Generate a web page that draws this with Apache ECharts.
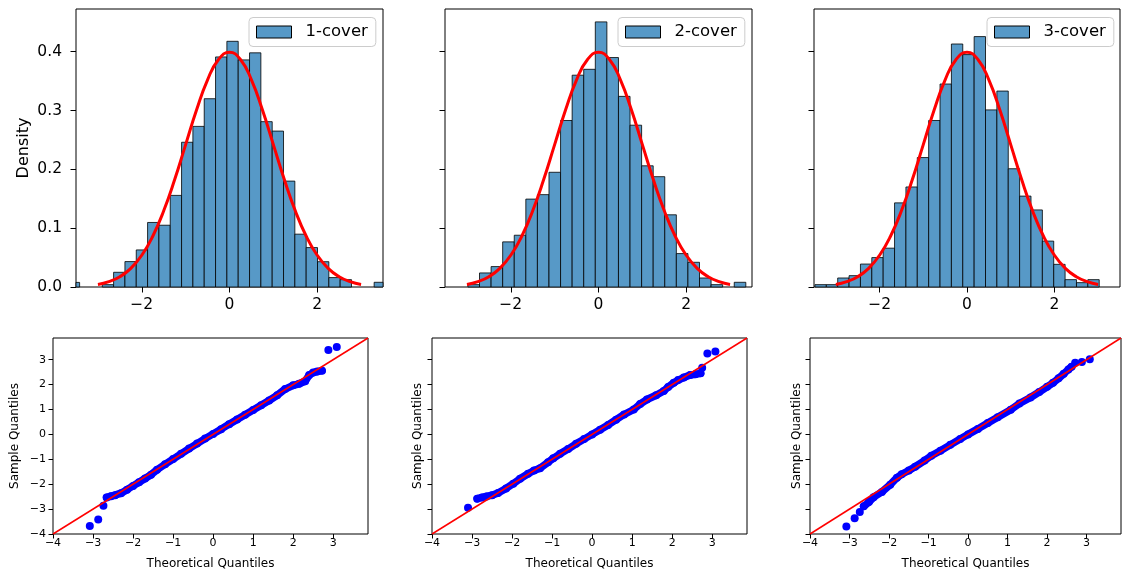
<!DOCTYPE html>
<html>
<head>
<meta charset="utf-8">
<script src="https://cdn.jsdelivr.net/npm/echarts@6.0.0/dist/echarts.min.js"></script>
<style>
  html, body { margin: 0; padding: 0; background: #fff; }
  #main { width: 1122px; height: 574px; }
</style>
</head>
<body>
<div id="main"></div>
<script>
// histogram densities per bin
var names = ['1-cover', '2-cover', '3-cover'];
var binStart = [-3.676, -2.977, -3.478];
var binWidth = [0.2583, 0.264, 0.2601];
var dens1 = [0.0078, 0, 0, 0.004, 0.025, 0.0432, 0.063, 0.1097, 0.105, 0.1557, 0.246, 0.273, 0.32, 0.391,
  0.4176, 0.386, 0.398, 0.281, 0.265, 0.18, 0.0898, 0.067, 0.043, 0.016, 0.0125, 0, 0, 0.008];
var dens2 = [0.004, 0.0239, 0.0347, 0.0767, 0.088, 0.1494, 0.157, 0.195, 0.283, 0.36, 0.37, 0.4506,
  0.39, 0.324, 0.275, 0.206, 0.1875, 0.1227, 0.0568, 0.042, 0.0153, 0.004, 0, 0.008];
var dens3 = [0.004, 0.004, 0.0153, 0.0193, 0.039, 0.05, 0.066, 0.143, 0.17, 0.22, 0.283, 0.345, 0.413,
  0.395, 0.4256, 0.301, 0.333, 0.201, 0.1545, 0.131, 0.078, 0.0385, 0.0125, 0.0074, 0.0125];

// red normal curve
var pdfX = [-3, -2.75, -2.5, -2.25, -2, -1.75, -1.5, -1.25, -1, -0.75, -0.5, -0.25, 0,
  0.25, 0.5, 0.75, 1, 1.25, 1.5, 1.75, 2, 2.25, 2.5, 2.75, 3];
var pdfY = [0.0044, 0.0091, 0.0175, 0.0317, 0.054, 0.0863, 0.1295, 0.1826, 0.242, 0.3011, 0.3521, 0.3867, 0.3989,
  0.3867, 0.3521, 0.3011, 0.242, 0.1826, 0.1295, 0.0863, 0.054, 0.0317, 0.0175, 0.0091, 0.0044];

// qq plots: [theoretical, sample]; band = dense run of points, tail = lone points
var qq1Band = [[-2.66, -2.53], [-2.55, -2.48], [-2.45, -2.44], [-2.3, -2.36], [-2.15, -2.22], [-2.0, -2.07],
  [-1.85, -1.92], [-1.7, -1.77], [-1.55, -1.62], [-1.4, -1.42], [-1.2, -1.2], [-1.0, -0.99], [-0.8, -0.78],
  [-0.6, -0.57], [-0.4, -0.37], [-0.2, -0.17], [0, 0.02], [0.2, 0.21], [0.4, 0.41], [0.6, 0.6], [0.8, 0.79],
  [1.0, 0.98], [1.2, 1.17], [1.4, 1.36], [1.6, 1.57], [1.8, 1.82], [2.0, 1.97], [2.15, 2.03], [2.3, 2.13],
  [2.4, 2.38], [2.5, 2.48], [2.6, 2.52], [2.72, 2.56]];
var qq1Tail = [[-3.08, -3.68], [-2.87, -3.42], [-2.74, -2.87], [2.88, 3.39], [3.09, 3.51]];
var qq2Band = [[-2.87, -2.58], [-2.75, -2.53], [-2.64, -2.49], [-2.5, -2.44], [-2.35, -2.35], [-2.15, -2.17],
  [-1.97, -1.98], [-1.8, -1.78], [-1.6, -1.58], [-1.45, -1.45], [-1.3, -1.36], [-1.1, -1.12], [-0.97, -0.96],
  [-0.8, -0.78], [-0.6, -0.59], [-0.4, -0.38], [-0.2, -0.19], [0, 0], [0.2, 0.19], [0.4, 0.38], [0.6, 0.59],
  [0.8, 0.8], [1.04, 1.0], [1.2, 1.22], [1.37, 1.4], [1.6, 1.57], [1.79, 1.74], [1.9, 1.9], [2.04, 2.07],
  [2.15, 2.18], [2.29, 2.28], [2.45, 2.38], [2.58, 2.41], [2.71, 2.45]];
var qq2Tail = [[-3.1, -2.95], [2.75, 2.68], [2.88, 3.25], [3.08, 3.33]];
var qq3Band = [[-2.64, -2.89], [-2.51, -2.72], [-2.39, -2.52], [-2.18, -2.31], [-1.97, -2.02], [-1.8, -1.74],
  [-1.68, -1.6], [-1.5, -1.45], [-1.34, -1.3], [-1.1, -1.05], [-0.93, -0.86], [-0.7, -0.66], [-0.45, -0.42],
  [-0.2, -0.19], [0, 0], [0.25, 0.22], [0.5, 0.46], [0.75, 0.69], [1.08, 0.99], [1.3, 1.24], [1.58, 1.48],
  [1.8, 1.7], [2.0, 1.91], [2.15, 2.07], [2.29, 2.25], [2.42, 2.43], [2.54, 2.61], [2.62, 2.72]];
var qq3Tail = [[-3.08, -3.7], [-2.87, -3.37], [-2.74, -3.12], [2.71, 2.88], [2.88, 2.91], [3.08, 3.02]];
var qqLine = [-4, 3.87];

// tick values
var histTicksX = [-2, 0, 2];
var histTicksY = [0, 0.1, 0.2, 0.3, 0.4];
var qqTicks = [-4, -3, -2, -1, 0, 1, 2, 3];

var FONT = 'DejaVu Sans';
var barFill = '#5799c7';
var barEdge = 'rgba(0,0,0,0.8)';
var chart = echarts.init(document.getElementById('main'));

function minus(v) {
  return v < 0 ? '\u2212' + Math.abs(v) : String(v);
}

function histItem(params, api) {
  var a = api.coord([api.value(0), api.value(2)]);
  var b = api.coord([api.value(1), 0]);
  var cs = params.coordSys;
  var shape = echarts.graphic.clipRectByRect(
    { x: a[0], y: a[1], width: b[0] - a[0], height: b[1] - a[1] },
    { x: cs.x, y: cs.y, width: cs.width, height: cs.height });
  if (!shape || api.value(2) <= 0) return;
  return { type: 'rect', shape: shape, style: { fill: barFill, stroke: barEdge, lineWidth: 1 } };
}

var dens = [dens1, dens2, dens3];
var qqBand = [qq1Band, qq2Band, qq3Band];
var qqTail = [qq1Tail, qq2Tail, qq3Tail];

var grids = [
  { left: 76, top: 9, width: 307, height: 278 },
  { left: 445, top: 9, width: 307, height: 278 },
  { left: 814, top: 9, width: 306, height: 278 },
  { left: 53, top: 338, width: 315, height: 196 },
  { left: 432, top: 338, width: 315, height: 196 },
  { left: 810, top: 338, width: 311, height: 196 }
];
grids.forEach(function (g) {
  g.show = true;
  g.borderColor = '#000';
  g.borderWidth = 1;
  g.containLabel = false;
});

var xAxes = [], yAxes = [], series = [], legends = [];
var legLeft = [249, 618, 987];

for (var i = 0; i < 3; i++) {
  xAxes.push({
    type: 'value', gridIndex: i, min: -3.5, max: 3.5,
    axisLine: { show: false, onZero: false }, splitLine: { show: false },
    axisTick: { show: true, length: 5.5, customValues: histTicksX, lineStyle: { color: '#000' } },
    axisLabel: { customValues: histTicksX, formatter: minus, fontSize: 15.5, color: '#000', margin: 10, fontFamily: FONT }
  });
  yAxes.push({
    type: 'value', gridIndex: i, min: 0, max: 0.4725,
    name: i === 0 ? 'Density' : '', nameLocation: 'middle', nameGap: 44,
    nameTextStyle: { fontSize: 16, color: '#000', fontFamily: FONT },
    axisLine: { show: false, onZero: false }, splitLine: { show: false },
    axisTick: { show: true, length: 5.5, customValues: histTicksY, lineStyle: { color: '#000' } },
    axisLabel: { show: i === 0, customValues: histTicksY, formatter: function (v) { return v.toFixed(1); },
      fontSize: 15.5, color: '#000', margin: 14, fontFamily: FONT }
  });

  var rows = dens[i].map(function (h, k) {
    return [binStart[i] + k * binWidth[i], binStart[i] + (k + 1) * binWidth[i], h];
  });
  series.push({
    type: 'custom', name: names[i], xAxisIndex: i, yAxisIndex: i,
    renderItem: histItem, data: rows, encode: { x: [0, 1], y: 2 },
    itemStyle: { color: barFill, borderColor: '#000', borderWidth: 1 }, z: 2
  });
  series.push({
    type: 'line', xAxisIndex: i, yAxisIndex: i, smooth: true, showSymbol: false, z: 3,
    data: pdfX.map(function (x, k) { return [x, pdfY[k]]; }),
    lineStyle: { color: '#ff0000', width: 3 }
  });

  legends.push({
    data: [{ name: names[i], icon: 'rect' }],
    left: legLeft[i], top: 17.5, itemWidth: 35, itemHeight: 12, selectedMode: false,
    backgroundColor: 'rgba(255,255,255,0.8)', borderColor: '#cccccc', borderWidth: 1, borderRadius: 4,
    padding: [6, 8, 6, 7],
    itemStyle: { color: barFill, borderColor: '#000', borderWidth: 1 },
    textStyle: { fontSize: 16.5, color: '#000', fontFamily: FONT, padding: [0, 0, 0, 9] }
  });
}

var qqNameGap = [32, 8, 7];
for (var j = 0; j < 3; j++) {
  var gi = j + 3;
  xAxes.push({
    type: 'value', gridIndex: gi, min: qqLine[0], max: qqLine[1],
    name: 'Theoretical Quantiles', nameLocation: 'middle', nameGap: 24,
    nameTextStyle: { fontSize: 12, color: '#000', fontFamily: FONT },
    axisLine: { show: false, onZero: false }, splitLine: { show: false },
    axisTick: { show: true, length: 4.5, customValues: qqTicks, lineStyle: { color: '#000' } },
    axisLabel: { customValues: qqTicks, formatter: minus, fontSize: 11, color: '#000', margin: 4, fontFamily: FONT }
  });
  yAxes.push({
    type: 'value', gridIndex: gi, min: qqLine[0], max: qqLine[1],
    name: 'Sample Quantiles', nameLocation: 'middle', nameGap: qqNameGap[j],
    nameTextStyle: { fontSize: 12, color: '#000', fontFamily: FONT },
    axisLine: { show: false, onZero: false }, splitLine: { show: false },
    axisTick: { show: true, length: 4.5, customValues: qqTicks, lineStyle: { color: '#000' } },
    axisLabel: { show: j === 0, customValues: qqTicks, formatter: minus, fontSize: 11, color: '#000', margin: 7, fontFamily: FONT }
  });
  series.push({
    type: 'line', xAxisIndex: gi, yAxisIndex: gi, data: qqBand[j], z: 2,
    symbol: 'circle', symbolSize: 8, showSymbol: true,
    itemStyle: { color: '#0000ff' },
    lineStyle: { color: '#0000ff', width: 7.5, cap: 'round', join: 'round' }
  });
  series.push({
    type: 'scatter', xAxisIndex: gi, yAxisIndex: gi, data: qqTail[j], z: 2,
    symbol: 'circle', symbolSize: 8, itemStyle: { color: '#0000ff', opacity: 1 }
  });
  series.push({
    type: 'line', xAxisIndex: gi, yAxisIndex: gi, showSymbol: false, z: 4,
    data: [[qqLine[0], qqLine[0]], [qqLine[1], qqLine[1]]],
    lineStyle: { color: '#ff0000', width: 1.5 }
  });
}

chart.setOption({
  animation: false,
  backgroundColor: '#ffffff',
  textStyle: { fontFamily: FONT },
  grid: grids,
  xAxis: xAxes,
  yAxis: yAxes,
  legend: legends,
  series: series
});
</script>
</body>
</html>
